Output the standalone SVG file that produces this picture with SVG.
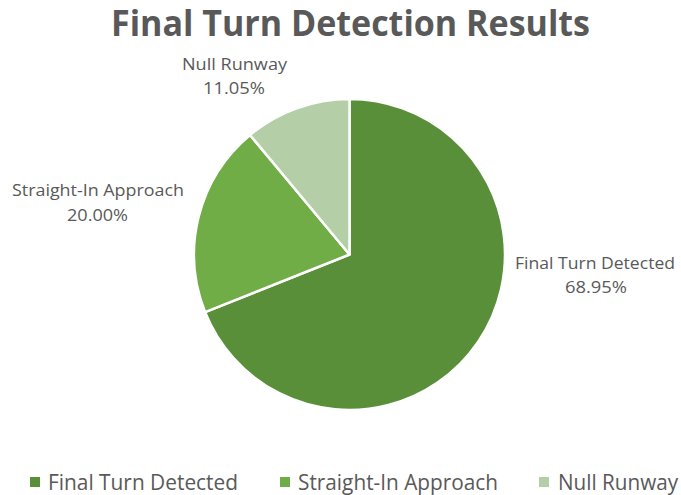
<svg xmlns="http://www.w3.org/2000/svg" width="681" height="495" viewBox="0 0 681 495">
<style>
.t{font-family:"Open Sans","Liberation Sans",sans-serif;fill:#595959;text-anchor:middle}
.title{font-weight:bold;font-size:35px}
.lbl{font-size:17px}
.leg{font-size:21px;text-anchor:start}
.sl{stroke:#ffffff;stroke-width:2.5;stroke-linejoin:round}
.c1{fill:#5A8F3A}
.c2{fill:#70AD47}
.c3{fill:#B4CFA7}
</style>
<rect width="681" height="495" fill="#ffffff"/>
<text class="t title" x="350.5" y="36" textLength="479" lengthAdjust="spacingAndGlyphs">Final Turn Detection Results</text>
<g id="slice-final-turn-detected">
<path class="sl c1" d="M349.5,254.5 L349.5,99 A155.5,155.5 0 1 1 205.11,312.2 Z"/>
</g>
<g id="slice-straight-in-approach">
<path class="sl c2" d="M349.5,254.5 L205.11,312.2 A155.5,155.5 0 0 1 250.02,134.99 Z"/>
</g>
<g id="slice-null-runway">
<path class="sl c3" d="M349.5,254.5 L250.02,134.99 A155.5,155.5 0 0 1 349.5,99 Z"/>
</g>
<g id="labels">
<text class="t lbl" x="234.5" y="70" textLength="105" lengthAdjust="spacingAndGlyphs">Null Runway</text>
<text class="t lbl" x="234" y="94" textLength="62" lengthAdjust="spacingAndGlyphs">11.05%</text>
<text class="t lbl" x="98" y="196" textLength="172" lengthAdjust="spacingAndGlyphs">Straight-In Approach</text>
<text class="t lbl" x="97.5" y="221" textLength="61" lengthAdjust="spacingAndGlyphs">20.00%</text>
<text class="t lbl" x="595" y="269" textLength="160" lengthAdjust="spacingAndGlyphs">Final Turn Detected</text>
<text class="t lbl" x="596" y="293" textLength="62" lengthAdjust="spacingAndGlyphs">68.95%</text>
</g>
<g id="connectors"></g>
<g id="legend">
<rect class="c1" x="30" y="477" width="10" height="10"/>
<text class="t leg" x="48" y="490" textLength="190" lengthAdjust="spacingAndGlyphs">Final Turn Detected</text>
<rect class="c2" x="280" y="477" width="10" height="10"/>
<text class="t leg" x="298" y="490" textLength="200" lengthAdjust="spacingAndGlyphs">Straight-In Approach</text>
<rect class="c3" x="539" y="477" width="10" height="10"/>
<text class="t leg" x="558" y="490" textLength="120" lengthAdjust="spacingAndGlyphs">Null Runway</text>
</g>
</svg>
